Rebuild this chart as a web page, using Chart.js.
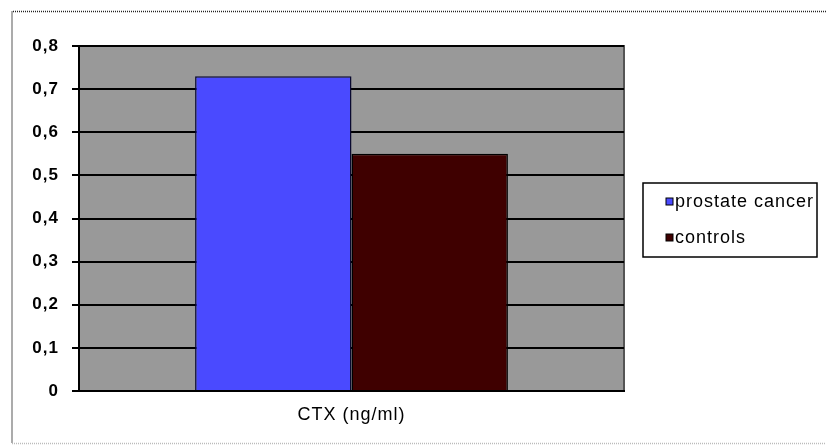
<!DOCTYPE html>
<html lang="en">
<head>
    <meta charset="UTF-8">
    <title>CTX (ng/ml)</title>
    <script src="https://cdn.jsdelivr.net/npm/chart.js"></script>
    <style>
        html, body { margin: 0; padding: 0; background: #fff; }
        #wrap { width: 826px; height: 445px; position: relative; }
    </style>
</head>
<body>
    <div id="wrap"><canvas id="ctxChart" width="826" height="445"></canvas></div>

    <script>
        // data
        const categories = ['CTX (ng/ml)'];
        const seriesNames = ['prostate cancer', 'controls'];
        const prostateValues = [0.73];
        const controlValues = [0.55];
        const yTickLabels = ['0', '0,1', '0,2', '0,3', '0,4', '0,5', '0,6', '0,7', '0,8'];

        const FONT = "'Liberation Sans', Arial, sans-serif";

        // gray plot background, outer dotted frame, boxed legend
        const decor = {
            id: 'decor',
            beforeDraw(chart) {
                const { ctx, chartArea: a } = chart;
                ctx.letterSpacing = '1px';
                ctx.save();
                ctx.fillStyle = '#999999';
                ctx.fillRect(a.left, a.top, a.right - a.left, a.bottom - a.top);
                ctx.strokeStyle = '#555';
                ctx.lineWidth = 2;
                ctx.beginPath();
                ctx.moveTo(a.left, a.top);
                ctx.lineTo(a.right, a.top);
                ctx.lineTo(a.right, a.bottom);
                ctx.stroke();
                ctx.restore();
            },
            afterDraw(chart) {
                const ctx = chart.ctx;
                ctx.save();
                // dotted frame
                ctx.strokeStyle = '#222';
                ctx.lineWidth = 1.5;
                ctx.setLineDash([1, 1]);
                ctx.beginPath();
                ctx.moveTo(826, 11.5);
                ctx.lineTo(12, 11.5);
                ctx.lineTo(12, 443);
                ctx.stroke();
                ctx.strokeStyle = '#bbb';
                ctx.beginPath();
                ctx.moveTo(12, 443.5);
                ctx.lineTo(826, 443.5);
                ctx.stroke();
                ctx.setLineDash([]);

                // legend box
                ctx.strokeStyle = '#000';
                ctx.lineWidth = 1.5;
                ctx.strokeRect(643, 183, 174, 74);
                ctx.font = '18px ' + FONT;
                ctx.textBaseline = 'middle';
                ctx.fillStyle = '#000';
                const rows = [202, 238];
                chart.data.datasets.forEach((ds, i) => {
                    const y = rows[i];
                    ctx.fillStyle = ds.backgroundColor;
                    ctx.fillRect(666, y - 4, 7, 7);
                    ctx.strokeStyle = '#000';
                    ctx.lineWidth = 1;
                    ctx.strokeRect(666, y - 4, 7, 7);
                    ctx.fillStyle = '#000';
                    ctx.fillText(ds.label, 675, y);
                });
                ctx.restore();
            }
        };

        new Chart(document.getElementById('ctxChart'), {
            type: 'bar',
            data: {
                labels: categories,
                datasets: [
                    {
                        label: seriesNames[0],
                        data: prostateValues,
                        backgroundColor: '#4a4aff',
                        borderColor: '#0a0a30',
                        borderWidth: 1.5,
                        categoryPercentage: 0.574,
                        barPercentage: 1
                    },
                    {
                        label: seriesNames[1],
                        data: controlValues,
                        backgroundColor: '#3f0000',
                        borderColor: '#000',
                        borderWidth: 1.5,
                        categoryPercentage: 0.574,
                        barPercentage: 1
                    }
                ]
            },
            options: {
                responsive: false,
                animation: false,
                layout: { padding: { left: 0, top: 46, right: 202, bottom: 0 } },
                plugins: {
                    legend: { display: false },
                    tooltip: { enabled: false }
                },
                scales: {
                    x: {
                        grid: { display: false, drawTicks: false },
                        border: { color: '#000', width: 2 },
                        ticks: {
                            color: '#000',
                            padding: 13,
                            font: { family: FONT, size: 18 }
                        },
                        afterFit(scale) { scale.height = 54; }
                    },
                    y: {
                        min: 0,
                        max: 0.8,
                        grid: { color: '#000', lineWidth: 2, tickLength: 7, drawTicks: true },
                        border: { color: '#000', width: 2 },
                        ticks: {
                            stepSize: 0.1,
                            color: '#000',
                            padding: 13,
                            font: { family: FONT, size: 17, weight: 'bold' },
                            callback: (v, i) => yTickLabels[i]
                        },
                        afterFit(scale) { scale.width = 79; }
                    }
                }
            },
            plugins: [decor]
        });
    </script>
</body>
</html>
